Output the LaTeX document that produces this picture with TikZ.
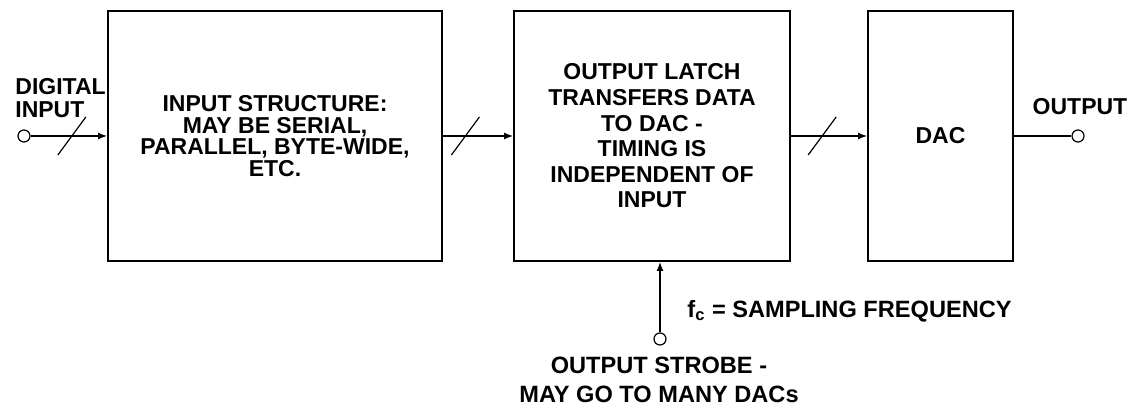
\documentclass[tikz,border=0pt]{standalone}
\usepackage{fontspec}
\setmainfont{Liberation Sans}
\usepackage{tikz}
\usetikzlibrary{arrows.meta,calc}
\tikzstyle{block}=[draw, line width=1pt, minimum height=125pt, inner sep=0pt,
align=center, font=\bfseries\fontsize{11.5}{10.9}\selectfont]
\tikzstyle{texto}=[inner sep=0pt, font=\bfseries\fontsize{11.5}{12}\selectfont]
\tikzstyle{port}=[draw, circle, line width=0.6pt, fill=white, minimum size=6pt, inner sep=0pt]
\tikzstyle{line}=[draw, line width=0.6pt, -{Latex[length=4.5pt,width=3.5pt]}]
\newcommand{\bus}[1]{\draw[line width=0.6pt] ($(#1)+(-14,19)$) -- ($(#1)+(14,-19)$);}
\begin{document}
\begin{tikzpicture}[x=0.5pt,y=-0.5pt]
	\useasboundingbox (0,0) rectangle (1129,406);
	
	% Draw diagram elements
	\node (p1)[block, minimum width=167pt] at (275,136) {INPUT STRUCTURE:\\MAY BE SERIAL,\\PARALLEL, BYTE-WIDE,\\ETC.};
	\node (p2)[block, minimum width=138pt, font=\bfseries\fontsize{11.5}{12.8}\selectfont] at (652,136)
	{OUTPUT LATCH\\TRANSFERS DATA\\TO DAC -\\TIMING IS\\INDEPENDENT OF\\INPUT};
	\node (p3)[block, minimum width=72.5pt] at (940.5,136) {DAC};
	
	\node (in)[port] at (24,136) {};
	\node (out)[port] at (1078,136) {};
	\node (strobe)[port] at (660,339) {};
	
	% Labels
	\node (tin)[texto, anchor=west, align=left, font=\bfseries\fontsize{11.5}{11.5}\selectfont] at (15,98) {DIGITAL\\INPUT};
	\node (tout)[texto] at (1080,107) {OUTPUT};
	\node (tfc)[texto, anchor=west, font=\bfseries\fontsize{11.8}{12}\selectfont] at (687,311) {f\textsubscript{c} = SAMPLING FREQUENCY};
	\node (tstrobe)[texto, align=center, font=\bfseries\fontsize{11.8}{14.2}\selectfont] at (659,380) {OUTPUT STROBE -\\MAY GO TO MANY DACs};
	
	% Draw arrows between elements
	\path [line] (in.east) -- coordinate[pos=0.54] (s1) (in -| p1.west);
	\path [line] (p1.east) -- coordinate[pos=0.32] (s2) (p2.west);
	\path [line] (p2.east) -- coordinate[pos=0.41] (s3) (p3.west);
	\draw [line width=0.6pt] (p3.east) -- (out.west);
	\path [line] (strobe.north) -- (strobe |- p2.south);
	
	% Bus marks
	\bus{s1}
	\bus{s2}
	\bus{s3}
	
\end{tikzpicture}
\end{document}
